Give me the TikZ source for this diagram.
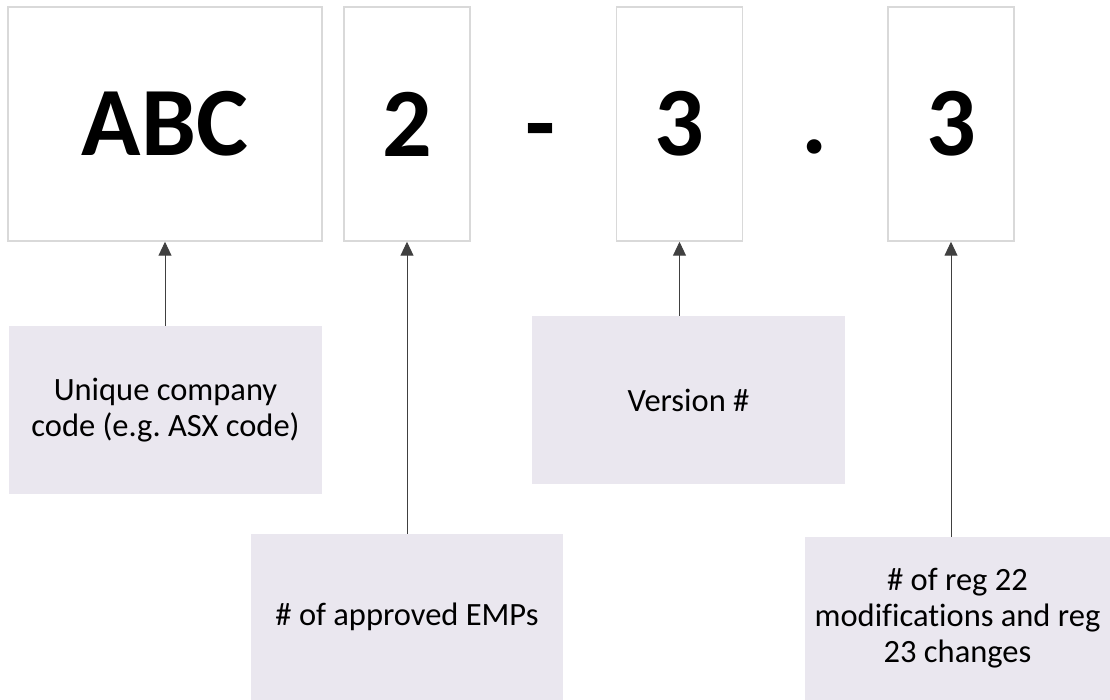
\documentclass[tikz,border=0pt]{standalone}
\usepackage{fontspec}
\setmainfont{Carlito}[Ligatures=CommonOff]
\usetikzlibrary{arrows.meta}
\definecolor{boxline}{HTML}{D9D9D9}
\definecolor{notefill}{HTML}{EAE7EF}
\definecolor{linkgray}{HTML}{404040}
\frenchspacing

\begin{document}
\begin{tikzpicture}[
    x=1pt, y=-1pt,
    part/.style={draw=boxline, line width=1.5pt, minimum height=234pt, inner sep=0pt,
                 font=\fontsize{98}{98}\selectfont\bfseries},
    sep/.style={anchor=base, inner sep=0pt, font=\fontsize{98}{98}\selectfont\bfseries},
    note/.style={fill=notefill, inner sep=0pt, align=center, font=\fontsize{32.5}{36}\selectfont},
    link/.style={-{Triangle[length=14pt, width=13pt]}, color=linkgray, line width=1pt},
]
\useasboundingbox (0,0) rectangle (1110,700);

% Parts of the number, left to right
\node[part, minimum width=314pt] (code) at (165,124) {ABC};
\node[part, minimum width=126pt] (emp) at (407,124) {2};
\node[sep] (dash) at (540,157) {-};
\node[part, minimum width=126pt] (ver) at (679.5,124) {3};
\node[sep] (dot) at (815,154) {.};
\node[part, minimum width=126pt] (rev) at (951,124) {3};

% Notes underneath
\node[note, minimum width=313pt, minimum height=168pt] (codenote) at (165.5,410)
    {Unique company\\code (e.g. ASX code)};
\node[note, minimum width=312pt, minimum height=166pt] (empnote) at (407,617)
    {\# of approved EMPs};
\node[note, minimum width=313pt, minimum height=168pt] (vernote) at (688.5,400)
    {Version \#};
\node[note, minimum width=305pt, minimum height=163pt] (revnote) at (957.5,618.5)
    {\# of reg 22\\modifications and reg\\23 changes};

% Arrows from each note up to its part
\draw[link] (code.south |- codenote.north) -- (code.south);
\draw[link] (emp.south |- empnote.north) -- (emp.south);
\draw[link] (ver.south |- vernote.north) -- (ver.south);
\draw[link] (rev.south |- revnote.north) -- (rev.south);

\end{tikzpicture}
\end{document}
